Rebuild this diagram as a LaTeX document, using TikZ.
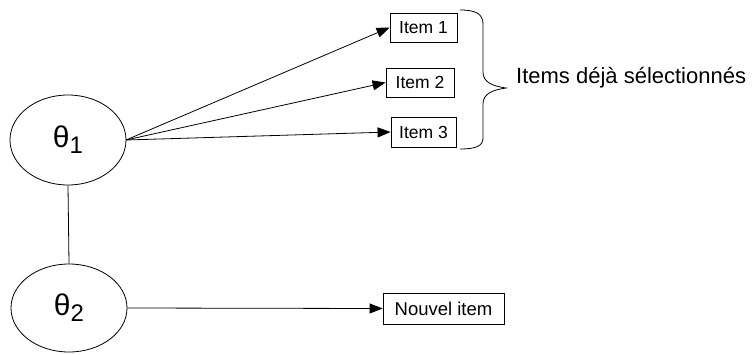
\documentclass[tikz,border=0pt]{standalone}
\usepackage{fontspec}
\setmainfont{Liberation Sans}
\usetikzlibrary{arrows.meta,shapes.geometric}
\begin{document}
\begin{tikzpicture}[x=1pt,y=-1pt,
  ell/.style={draw,ellipse,minimum width=116pt,minimum height=90pt,inner sep=0pt,line width=0.8pt},
  itembox/.style={draw,rectangle,inner sep=0pt,line width=0.8pt,font=\fontsize{17.5}{17.5}\selectfont},
  arr/.style={-{Triangle[length=13pt,width=10pt]},line width=0.8pt},
  lnk/.style={line width=0.8pt}]
\useasboundingbox (0,0) rectangle (756,354);
\node[ell] (t1) at (68,140) {\fontsize{30}{30}\selectfont θ\raisebox{-6pt}{\fontsize{24}{24}\selectfont 1}};
\node[ell,minimum height=88pt] (t2) at (69,308) {\fontsize{30}{30}\selectfont θ\raisebox{-6pt}{\fontsize{24}{24}\selectfont 2}};
\node[itembox,minimum width=67pt,minimum height=29pt] (i1) at (423.5,27.5) {Item 1};
\node[itembox,minimum width=68pt,minimum height=29pt] (i2) at (420,82.5) {Item 2};
\node[itembox,minimum width=65pt,minimum height=30pt] (i3) at (423.5,132) {Item 3};
\node[itembox,minimum width=121pt,minimum height=31pt,font=\fontsize{18.5}{18.5}\selectfont] (ni) at (443.5,308.5) {Nouvel item};
\coordinate (src) at (126,140);
\draw[arr] (src) -- (i1.west);
\draw[arr] (src) -- (i2.west);
\draw[arr] (src) -- (i3.west);
\draw[arr] (t2.east) -- (ni.west);
\draw[lnk] (t1.south) -- (t2.north);
\coordinate (btip) at (506,88);
\draw[lnk] (460,10) .. controls (476,10) and (483,14) .. (483,24)
  -- (483,72) .. controls (483,82) and (492,86) .. (btip)
  .. controls (492,90) and (483,94) .. (483,104)
  -- (483,138) .. controls (483,146) and (476,149) .. (460,149);
\node[anchor=west,inner sep=0pt,font=\fontsize{22}{22}\selectfont] (lab) at (516,78) {Items déjà sélectionnés};
\end{tikzpicture}
\end{document}
